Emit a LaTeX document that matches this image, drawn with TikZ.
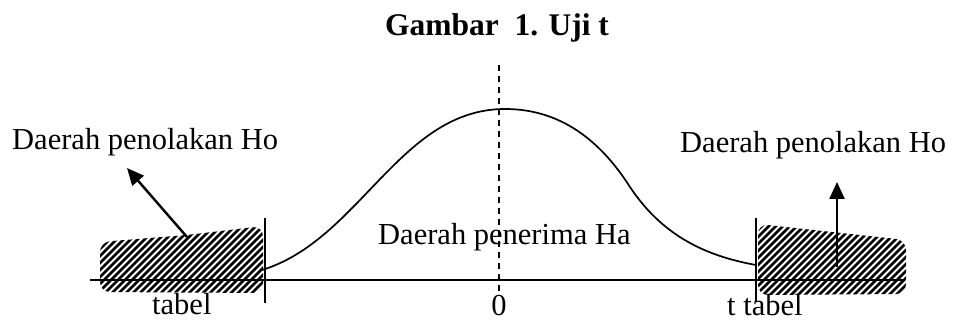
\documentclass[tikz,border=0pt]{standalone}
\usepackage{fontspec}
\setmainfont{Liberation Serif}
\usepackage{tikz}
\usetikzlibrary{arrows.meta}

\begin{document}
\begin{tikzpicture}[x=1pt, y=-1pt,
  lbl/.style={font=\fontsize{30.5}{32}\selectfont, inner sep=0pt},
  ttl/.style={font=\fontsize{31.5}{34}\selectfont\bfseries, inner sep=0pt, anchor=base},
  tick/.style={line width=1.4pt},
  hatch/.style={line width=2.5pt},
  arr/.style={line width=2.4pt, -{Triangle[length=17pt, width=15pt]}}
]
\useasboundingbox (0,0) rectangle (955,320);
\node[ttl] (title) at (497,36) {Gambar\ \ 1. Uji t};

\draw[line width=1.4pt] (90,280) -- (905,280);
\draw[line width=1.8pt, dash pattern=on 6pt off 5pt] (499,65) -- (499,292);
\draw[line width=1.7pt] (262,270) .. controls (360,240) and (400,109) .. (505,109)
  .. controls (560,109) and (600,140) .. (630,187)
  .. controls (660,232) and (700,255) .. (756,265);

\begin{scope}
  \clip[rounded corners=10pt] (100,292) -- (100,242) -- (187,235) -- (263,226)
    -- (263,293) -- cycle;
  \foreach \i in {0,7,...,280}
    \draw[hatch] (\i,300) -- ++(80,-80);
\end{scope}
\begin{scope}
  \clip[rounded corners=10pt] (758,295) -- (758,224) -- (906,240) -- (906,294)
    -- cycle;
  \foreach \i in {660,667,...,920}
    \draw[hatch] (\i,300) -- ++(80,-80);
\end{scope}

\draw[tick] (265,218) -- (265,303);
\draw[tick] (756,218) -- (756,302);

\coordinate (ltail) at (187,237);
\coordinate (ltip) at (127,168);
\coordinate (rtail) at (837,267);
\coordinate (rtip) at (837,182);
\draw[arr] (ltail) -- (ltip);
\draw[arr] (rtail) -- (rtip);

\node[lbl, anchor=base west] (tolakL) at (12,150) {Daerah penolakan Ho};
\node[lbl, anchor=base west] (tolakR) at (680,153) {Daerah penolakan Ho};
\node[lbl, anchor=base west] (terima) at (378,244) {Daerah penerima Ha};
\node[lbl, anchor=base west] (tabelL) at (152,314) {tabel};
\node[lbl, anchor=base west] (tabelR) at (727,315) {t tabel};
\node[lbl, anchor=base] (nol) at (499,315) {0};
\end{tikzpicture}
\end{document}
